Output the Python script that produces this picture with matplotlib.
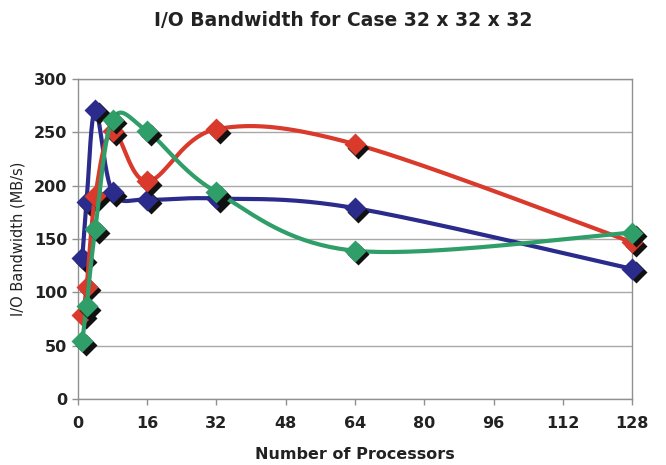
import numpy as np
import matplotlib
matplotlib.use("Agg")
import matplotlib.pyplot as plt
from matplotlib.transforms import offset_copy

# processors and bandwidth (MB/s)
procs = [1, 2, 4, 8, 16, 32, 64, 128]
blue_vals = [132, 185, 271, 194, 187, 188, 179, 122]
red_vals = [79, 105, 190, 251, 204, 253, 239, 147]
green_vals = [54, 87, 159, 262, 251, 194, 139, 156]

xticks = [0, 16, 32, 48, 64, 80, 96, 112, 128]
yticks = [0, 50, 100, 150, 200, 250, 300]


def smooth(x, y, n=40):
    # excel-like smoothed line: catmull-rom via cubic bezier
    x = np.asarray(x, float)
    y = np.asarray(y, float)
    px = np.concatenate([[x[0]], x, [x[-1]]])
    py = np.concatenate([[y[0]], y, [y[-1]]])
    xs, ys = [], []
    t = np.linspace(0, 1, n)
    for i in range(1, len(px) - 2):
        p0 = np.array([px[i], py[i]])
        p3 = np.array([px[i + 1], py[i + 1]])
        c1 = p0 + (np.array([px[i + 1], py[i + 1]]) - np.array([px[i - 1], py[i - 1]])) / 6
        c2 = p3 - (np.array([px[i + 2], py[i + 2]]) - np.array([px[i], py[i]])) / 6
        b = ((1 - t) ** 3)[:, None] * p0 + (3 * (1 - t) ** 2 * t)[:, None] * c1 \
            + (3 * (1 - t) * t ** 2)[:, None] * c2 + (t ** 3)[:, None] * p3
        xs.extend(b[:, 0])
        ys.extend(b[:, 1])
    return xs, ys


fig = plt.figure(figsize=(6.66, 4.65), dpi=100)
ax = fig.add_axes([0.117, 0.142, 0.832, 0.688])

shadow = offset_copy(ax.transData, fig=fig, x=3.5, y=-3.5, units='dots')

series = [(blue_vals, '#2B2B8C'), (red_vals, '#DA3A2B'), (green_vals, '#2F9E68')]
for vals, col in series:
    sx, sy = smooth(procs, vals)
    ax.plot(sx, sy, color=col, lw=3, solid_capstyle='round', zorder=3)
    ax.plot(procs, vals, 'D', color='#111111', ms=11, mec='none',
            transform=shadow, zorder=3, clip_on=False)
    ax.plot(procs, vals, 'D', color=col, ms=11, mec='none', zorder=3,
            clip_on=False)

ax.set_xlim(0, 128)
ax.set_ylim(0, 300)
ax.set_xticks(xticks)
ax.set_yticks(yticks)
ax.grid(axis='y', color='#A8A8A8', lw=1)
ax.set_axisbelow(True)
for s in ax.spines.values():
    s.set_color('#909090')
    s.set_linewidth(1)
ax.tick_params(colors='#909090', labelcolor='#222222', length=4, width=1)
for lab in ax.get_xticklabels() + ax.get_yticklabels():
    lab.set_fontweight('bold')
    lab.set_fontsize(11.5)
ax.tick_params(axis='x', pad=8)

ax.set_xlabel('Number of Processors', fontsize=11.5, fontweight='bold',
              color='#222222', labelpad=12)
ax.set_ylabel('I/O Bandwidth (MB/s)', fontsize=10.5, color='#222222', labelpad=6)
fig.text(0.515, 0.955, 'I/O Bandwidth for Case 32 x 32 x 32', ha='center',
         va='center', fontsize=13.5, fontweight='bold', color='#222222')

fig.savefig('out.png', dpi=100)
